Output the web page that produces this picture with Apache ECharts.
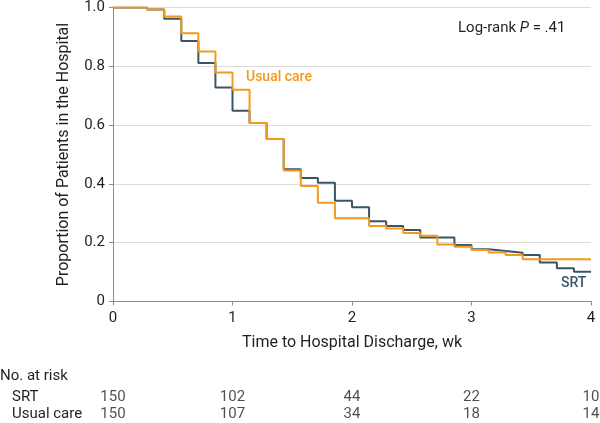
<!DOCTYPE html>
<html>
<head>
<meta charset="utf-8">
<script src="https://cdn.jsdelivr.net/npm/echarts@6/dist/echarts.min.js"></script>
<style>
html,body{margin:0;padding:0;background:#fff;}
#main{width:600px;height:423px;}
</style>
</head>
<body>
<div id="main"></div>
<script>
// ---- Data (time in days, survival proportion) ----
const days = [0,2,3,4,5,6,7,8,9,10,11,12,13,14,15,16,17,18,19,20,21,22,23,24,25,26,27,28];
const srtValues = [1.0,0.993,0.962,0.886,0.811,0.728,0.649,0.607,0.553,0.450,0.420,0.404,0.343,0.321,0.273,0.257,0.243,0.218,0.218,0.192,0.178,0.172,0.166,0.158,0.133,0.113,0.101,0.101];
const usualValues = [1.0,0.993,0.969,0.912,0.850,0.779,0.720,0.607,0.553,0.446,0.393,0.336,0.283,0.283,0.257,0.248,0.233,0.224,0.194,0.186,0.175,0.167,0.158,0.144,0.144,0.144,0.144,0.144];
const riskWeeks = [0,1,2,3,4];
const srtAtRisk = [150,102,44,22,10];
const usualAtRisk = [150,107,34,18,14];
const riskRows = ['Usual care','SRT'];

const FONT = 'Roboto';
const FS = 15;
const DARK = '#3a5566';
const ORANGE = '#f39a1b';
const TXT = '#231f20';

const toWeeks = d => d / 7;
const srtData = days.map((d,i) => [toWeeks(d), srtValues[i]]);
const usualData = days.map((d,i) => [toWeeks(d), usualValues[i]]);
const riskSrt = riskWeeks.map((w,i) => [w, 'SRT', srtAtRisk[i]]);
const riskUsual = riskWeeks.map((w,i) => [w, 'Usual care', usualAtRisk[i]]);

const chart = echarts.init(document.getElementById('main'), null, {renderer:'canvas'});
chart.setOption({
  animation: false,
  backgroundColor: '#fff',
  textStyle: {fontFamily: FONT},
  grid: [
    {left:113, right:9, top:6.5, bottom:121.5, containLabel:false},
    {left:113, right:9, top:388, height:36, containLabel:false}
  ],
  xAxis: [{
    gridIndex:0, type:'value', min:0, max:4, interval:1,
    name:'Time to Hospital Discharge, wk', nameLocation:'middle', nameGap:33,
    nameTextStyle:{fontFamily:FONT, fontSize:16, color:TXT},
    axisLine:{show:true, lineStyle:{color:'#8c8c8c', width:1}},
    axisTick:{show:true, length:4, lineStyle:{color:'#8c8c8c'}},
    axisLabel:{fontFamily:FONT, fontSize:FS, color:TXT, margin:9},
    splitLine:{show:false}
  },{
    gridIndex:1, type:'value', min:0, max:4, interval:1, show:false
  }],
  yAxis: [{
    gridIndex:0, type:'value', min:0, max:1, interval:0.2,
    name:'Proportion of Patients in the Hospital', nameLocation:'middle', nameGap:41,
    nameTextStyle:{fontFamily:FONT, fontSize:16, color:TXT},
    axisLine:{show:true, lineStyle:{color:'#8c8c8c', width:1}},
    axisTick:{show:true, length:4, lineStyle:{color:'#8c8c8c'}},
    axisLabel:{fontFamily:FONT, fontSize:FS, color:TXT, margin:8,
      formatter: v => v === 0 ? '0' : v.toFixed(1)},
    splitLine:{show:true, lineStyle:{color:'#dcdcdc', width:1}}
  },{
    gridIndex:1, type:'category', data:riskRows,
    axisLine:{show:false}, axisTick:{show:false}, splitLine:{show:false},
    axisLabel:{fontFamily:FONT, fontSize:FS, color:TXT, align:'left', margin:101, interval:0, hideOverlap:false}
  }],
  series: [
    {type:'line', xAxisIndex:0, yAxisIndex:0, step:'end', data:srtData, showSymbol:false,
     lineStyle:{color:DARK, width:2}, itemStyle:{color:DARK}, z:2},
    {type:'line', xAxisIndex:0, yAxisIndex:0, step:'end', data:usualData, showSymbol:false,
     lineStyle:{color:ORANGE, width:2}, itemStyle:{color:ORANGE}, z:3},
    {type:'scatter', xAxisIndex:1, yAxisIndex:1, data:riskSrt, symbolSize:0,
     label:{show:true, position:'inside', fontFamily:FONT, fontSize:FS, color:TXT,
       formatter: p => String(p.value[2])}},
    {type:'scatter', xAxisIndex:1, yAxisIndex:1, data:riskUsual, symbolSize:0,
     label:{show:true, position:'inside', fontFamily:FONT, fontSize:FS, color:TXT,
       formatter: p => String(p.value[2])}}
  ],
  graphic: [
    {type:'text', left:0, top:369, style:{text:'No. at risk', fontFamily:FONT, fontSize:FS, fill:TXT}},
    {type:'text', left:246, top:70, style:{text:'Usual care', fontFamily:FONT, fontSize:14, fontWeight:500, fill:ORANGE}},
    {type:'text', left:561, top:276, style:{text:'SRT', fontFamily:FONT, fontSize:14, fontWeight:500, fill:DARK}},
    {type:'text', left:458, top:21, style:{
      rich:{n:{fontFamily:FONT, fontSize:FS, fill:TXT}, i:{fontFamily:FONT, fontSize:FS, fontStyle:'italic', fill:TXT}},
      text:'{n|Log-rank }{i|P}{n| = .41}'}}
  ]
});
</script>
</body>
</html>
